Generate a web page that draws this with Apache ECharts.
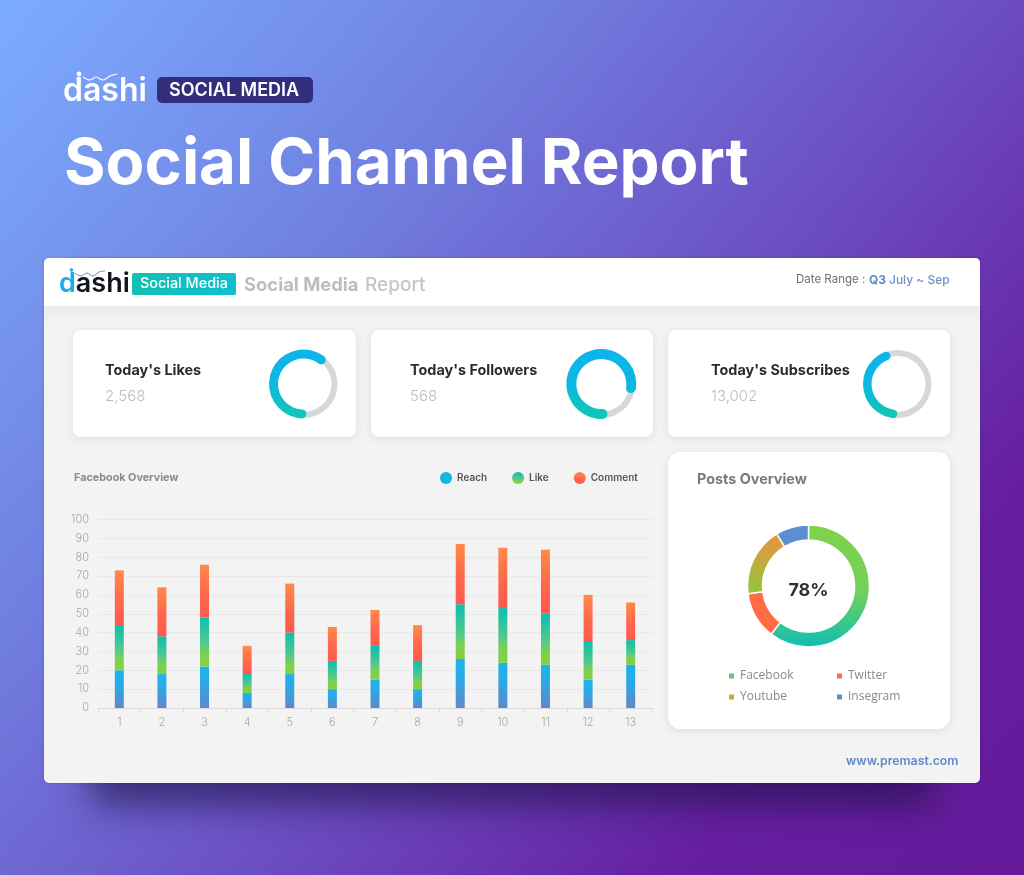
<!DOCTYPE html>
<html><head><meta charset="utf-8">
<style>html,body{margin:0;padding:0;background:#6a40b8}#c{width:1024px;height:875px}</style>
<script src="https://cdn.jsdelivr.net/npm/echarts@6/dist/echarts.min.js"></script>
</head><body><div id="c"></div>
<script>
const categories = ['1','2','3','4','5','6','7','8','9','10','11','12','13'];
const reach   = [20,18,22,8,18,10,15,10,26,24,23,15,23];
const like    = [24,20,26,10,22,15,18,15,29,29,27,20,13];
const comment = [29,26,28,15,26,18,19,19,32,32,34,25,20];
const postNames  = ['Facebook','Twitter','Youtube','Insegram'];
const postValues = [60.5,12.5,18.3,8.7];
const postCenterLabel = '78%';
const kpiTitles = ["Today's Likes","Today's Followers","Today's Subscribes"];
const kpiValues = ['2,568','568','13,002'];
const kpiPercents = [64,83,46];

const SANS = 'Inter, "Open Sans", sans-serif';
const grad = (stops, x=0,y=0,x2=0,y2=1) => ({type:'linear',x,y,x2,y2,colorStops:stops.map(([offset,color])=>({offset,color}))});
const cReach = grad([[0,'#1db3ea'],[.4,'#2aa9e7'],[.75,'#4b95d4'],[1,'#6088c6']]);
const cLike = grad([[0,'#0abfb0'],[.55,'#55c98a'],[.75,'#7dd04e'],[1,'#84d044']]);
const cComment = grad([[0,'#ff8b48'],[.5,'#ff6a4c'],[1,'#ff5850']]);
const cKpi = grad([[0,'#0cb5ea'],[.45,'#0cb7e4'],[1,'#10c7b2']]);
const cFb = grad([[0,'#7fd24a'],[.55,'#74d05c'],[1,'#0dbfb2']]);
const cYt = grad([[0,'#f0903f'],[1,'#8cc83c']]);
const postColors = [cFb,'#ff6c45',cYt,'#5c8fd2'];

const T = (x,y,text,fill,font,extra={}) => ({type:'text',z:5,style:Object.assign({x,y,text,fill,font:font+' '+SANS,textAlign:'left',textVerticalAlign:'middle'},extra)});
const R = (x,y,w,h,r,fill,extra={}) => ({type:'rect',z:-20,shape:{x,y,width:w,height:h,r},style:Object.assign({fill},extra)});
const card = (x,y,w,h,r) => R(x,y,w,h,r,'#fff',{shadowBlur:8,shadowOffsetY:2,shadowColor:'rgba(60,60,90,.10)'});
const logoWave = (pts,stroke,w) => ({type:'polyline',z:5,shape:{points:pts,smooth:0.35},style:{stroke,lineWidth:w,fill:null}});

const kpiX = [105,410,711];
const graphicEls = [
  R(90,690,845,88,10,'#3a2070',{shadowBlur:34,shadowOffsetY:28,shadowColor:'rgba(30,18,70,.62)'}),
  R(44,258,936,525,5,'#f3f3f3',{shadowBlur:3,shadowColor:'rgba(40,30,90,.25)'}),
  {type:'rect',z:-19,shape:{x:44,y:306,width:936,height:16},style:{fill:grad([[0,'#e9eaee'],[1,'#f3f3f3']])}},
  R(44,258,936,48,[5,5,0,0],'#fff'),
  card(73,330,283,107,8),card(371,330,282,107,8),card(668,330,282,107,8),card(668,452,282,277,12),
  // top brand
  T(63,91,'dashi','#fff','600 32px',{}),
  {type:'circle',z:5,shape:{cx:79,cy:74,r:2.4},style:{fill:'#fff'}},
  logoWave([[83,77],[90,80],[96,77],[103,80],[110,76],[117,74]],'#fff',1.2),
  R(157,77,156,26,5,'#332d7e',{}),
  T(169,91,'SOCIAL MEDIA','#fff','600 18px'),
  T(64,165,'Social Channel Report','#fff','700 63.5px'),
  // header brand
  {type:'text',z:5,style:{x:59,y:283.5,text:'{d|d}{a|ashi}',textVerticalAlign:'middle',rich:{d:{fill:'#18aee6',font:'600 27px '+SANS},a:{fill:'#14141c',font:'600 27px '+SANS}}}},
  {type:'circle',z:5,shape:{cx:71.5,cy:270,r:1.8},style:{fill:'#18aee6'}},
  logoWave([[75,273],[81,276],[87,273],[93,276],[99,272],[105,271]],'#5b84d8',1),
  R(132,273,104,22,2,grad([[0,'#12c0b0'],[1,'#10bfd0']],0,0,1,0)),
  T(140,284,'Social Media','#fff','500 14.4px'),
  T(244,285,'Social Media','#bdbdbd','700 18.4px'),
  T(365,285,'Report','#c6c6c6','500 19px'),
  T(796,280,'Date Range :','#6f6f73','400 11.5px'),
  T(869,280,'Q3','#6288c8','700 12px'),
  T(889,280,'July ~ Sep','#6f90cc','500 12px'),
  // section labels
  T(74,478,'Facebook Overview','#8a8a8e','700 10.8px'),
  T(697,480,'Posts Overview','#7a7a7e','700 14.4px'),
  T(808.5,591,postCenterLabel,'#303036','700 18px',{textAlign:'center'}),
  T(846,761,'www.premast.com','#6288c8','600 12.3px'),
];
kpiTitles.forEach((t,i)=>{
  graphicEls.push(T(kpiX[i],370.5,t,'#2a2a32','700 14.4px'));
  graphicEls.push(T(kpiX[i],396,kpiValues[i],'#bcbcbc','300 15px'));
});

const kpiGeom = [{c:[303.5,384],a:45,r:[25.5,34.5]},{c:[601.3,384],a:-17,r:[25,35]},{c:[897.5,384],a:104,r:[26,34.5]}];
const kpiSeries = [];
kpiPercents.forEach((p,i)=>{
  kpiSeries.push({type:'pie',silent:true,center:kpiGeom[i].c,radius:[28,34],label:{show:false},labelLine:{show:false},
    itemStyle:{color:'#d6d7d9'},data:[{value:100,name:'track'+i}],emphasis:{disabled:true},animation:false});
  kpiSeries.push({type:'pie',silent:true,center:kpiGeom[i].c,radius:kpiGeom[i].r,startAngle:kpiGeom[i].a,clockwise:false,label:{show:false},labelLine:{show:false},
    emphasis:{disabled:true},animation:false,
    data:[{value:p,name:'arc'+i,itemStyle:{color:cKpi,borderRadius:5}},{value:100-p,name:'rest'+i,itemStyle:{color:'transparent'}}]});
});

const barS = (name,data,color) => ({name,type:'bar',stack:'a',barWidth:9,data,itemStyle:{color},animation:false,emphasis:{disabled:true}});
const axisFont = {color:'#a8a8a8',fontSize:11,fontFamily:SANS,fontWeight:300};
const postLegendText = {color:'#8a8a8a',fontSize:12,fontFamily:'"Open Sans", sans-serif',padding:[0,0,0,0]};

const chart = echarts.init(document.getElementById('c'),null,{renderer:'canvas'});
chart.setOption({
  animation:false,
  backgroundColor:grad([[0,'#7cacff'],[.3,'#7080e0'],[.55,'#6c50c4'],[.8,'#661fa0'],[1,'#641a9a']],0,0,1,1),
  graphic:{elements:graphicEls},
  grid:{left:98,top:519.5,width:554,height:188.5,containLabel:false},
  xAxis:{type:'category',data:categories,boundaryGap:true,
    axisLine:{lineStyle:{color:'#dcdcdc'}},axisTick:{show:true,length:4,lineStyle:{color:'#dcdcdc'}},
    axisLabel:Object.assign({},axisFont,{margin:9})},
  yAxis:{type:'value',min:0,max:100,interval:10,axisLine:{show:false},axisTick:{show:false},
    splitLine:{lineStyle:{color:'#e8e8e8'}},axisLabel:Object.assign({},axisFont,{margin:9})},
  legend:[
    {data:[{name:'Reach',itemStyle:{color:'#0db8e2'}},'Like','Comment'],left:440,top:472,padding:0,itemWidth:12,itemHeight:12,itemGap:25,icon:'circle',
      textStyle:{color:'#55555a',fontSize:10,fontWeight:600,fontFamily:SANS}},
    {data:[{name:'Facebook',itemStyle:{color:'#5fcb85'}},'Youtube'],orient:'vertical',left:727,top:670,padding:0,itemWidth:7,itemHeight:7,itemGap:9,icon:'rect',textStyle:postLegendText},
    {data:['Twitter','Insegram'],orient:'vertical',left:835,top:670,padding:0,itemWidth:7,itemHeight:7,itemGap:9,icon:'rect',textStyle:postLegendText}
  ],
  series:[
    barS('Reach',reach,cReach),barS('Like',like,cLike),barS('Comment',comment,cComment),
    {type:'pie',center:[808.5,586],radius:[46,61],startAngle:90,silent:true,animation:false,
      label:{show:false},labelLine:{show:false},emphasis:{disabled:true},
      itemStyle:{borderColor:'#fff',borderWidth:1.5},
      data:postNames.map((name,i)=>({name,value:postValues[i],itemStyle:{color:postColors[i]}}))},
    ...kpiSeries
  ]
});
</script></body></html>
